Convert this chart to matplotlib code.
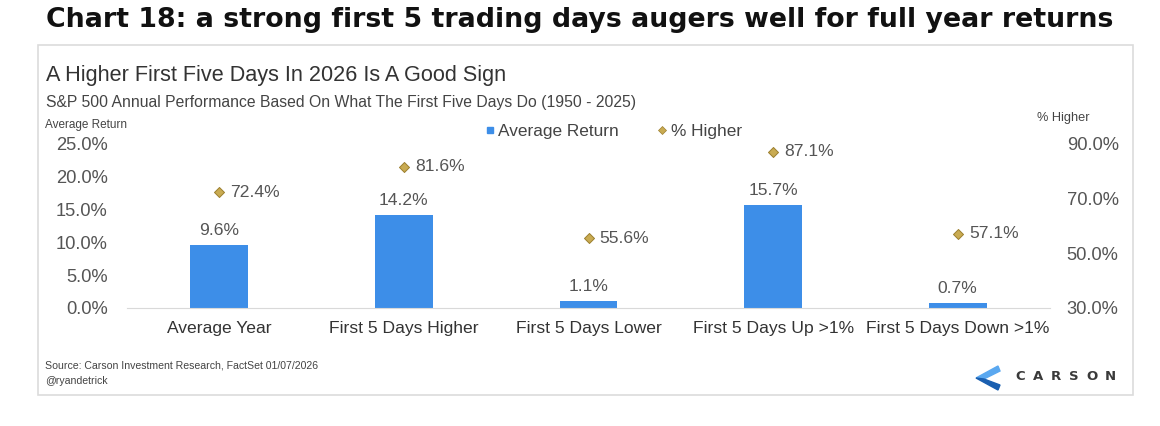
import matplotlib.pyplot as plt
from matplotlib.patches import Rectangle, Polygon
from matplotlib.lines import Line2D

categories = ["Average Year", "First 5 Days Higher", "First 5 Days Lower",
              "First 5 Days Up >1%", "First 5 Days Down >1%"]
avg_return = [9.6, 14.2, 1.1, 15.7, 0.7]
pct_higher = [72.4, 81.6, 55.6, 87.1, 57.1]
left_ticks = [0, 5, 10, 15, 20, 25]
right_ticks = [30, 50, 70, 90]

W, H = 1160, 426
bar_color = "#3d8ee8"
dia_color = "#c9ab52"
txt = "#555555"
FONT = "Liberation Sans"

fig = plt.figure(figsize=(W / 100, H / 100), dpi=100)
fig.patch.set_facecolor("white")

# outer heading
fig.text(0.5, 1 - 20 / H, "Chart 18: a strong first 5 trading days augers well for full year returns",
         ha="center", va="center", fontsize=19.3, fontweight="bold", family="DejaVu Sans", color="#111111")

# chart frame
fig.patches.append(Rectangle((38 / W, 1 - 395 / H), (1133 - 38) / W, (395 - 45) / H,
                             transform=fig.transFigure, fill=False, edgecolor="#dcdcdc", lw=1.2))

fig.text(46 / W, 1 - 75 / H, "A Higher First Five Days In 2026 Is A Good Sign",
         ha="left", va="center", fontsize=15.6, family=FONT, color="#333333")
fig.text(46 / W, 1 - 103 / H, "S&P 500 Annual Performance Based On What The First Five Days Do (1950 - 2025)",
         ha="left", va="center", fontsize=11.3, family=FONT, color="#444444")
fig.text(45 / W, 1 - 125 / H, "Average Return", ha="left", va="center", fontsize=8.5,
         family=FONT, color="#444444")
fig.text(1037 / W, 1 - 118 / H, "% Higher", ha="left", va="center", fontsize=9.2,
         family=FONT, color="#444444")

ax = fig.add_axes([127 / W, 1 - 308 / H, 923 / W, (308 - 144) / H])
x = list(range(len(categories)))
bars = ax.bar(x, avg_return, width=0.314, color=bar_color, zorder=2)
ax.set_xlim(-0.5, len(categories) - 0.5)
ax.set_ylim(0, 25)
ax.set_yticks(left_ticks)
ax.set_yticklabels([f"{v:.1f}%" for v in left_ticks])
ax.set_xticks(x)
ax.set_xticklabels(categories)
ax.tick_params(axis="y", length=0, pad=14, labelsize=13.2, labelcolor=txt)
ax.tick_params(axis="x", length=0, pad=9, labelsize=12.6, labelcolor="#333333")
for s in ["top", "left", "right"]:
    ax.spines[s].set_visible(False)
ax.spines["bottom"].set_color("#d9d9d9")
for lab in ax.get_xticklabels() + ax.get_yticklabels():
    lab.set_family(FONT)

for xi, v in zip(x, avg_return):
    ax.annotate(f"{v:.1f}%", (xi, v), xytext=(0, 5), textcoords="offset points",
                ha="center", va="bottom", fontsize=12.6, color=txt, family=FONT)

ax2 = ax.twinx()
ax2.set_ylim(30, 90)
ax2.set_yticks(right_ticks)
ax2.set_yticklabels([f"{v:.1f}%" for v in right_ticks])
ax2.tick_params(axis="y", length=0, pad=12, labelsize=13.2, labelcolor=txt)
for s in ax2.spines.values():
    s.set_visible(False)
for lab in ax2.get_yticklabels():
    lab.set_family(FONT)
ax2.scatter(x, pct_higher, marker="D", s=26, color=dia_color, edgecolor="#9c7f2e", lw=0.7, zorder=3)
for xi, v in zip(x, pct_higher):
    ax2.annotate(f"{v:.1f}%", (xi, v), xytext=(8, 0), textcoords="offset points",
                 ha="left", va="center", fontsize=12.6, color=txt, family=FONT)

handles = [Line2D([], [], ls="none", marker="s", ms=5, color=bar_color),
           Line2D([], [], ls="none", marker="D", ms=4, color=dia_color, mec="#9c7f2e", mew=0.5)]
fig.legend(handles, ["Average Return", "% Higher"], loc="center", ncol=2,
           bbox_to_anchor=(613 / W, 1 - 131 / H), frameon=False, handlelength=0.6,
           handletextpad=0.2, columnspacing=2.2, prop={"family": FONT, "size": 12.4},
           labelcolor="#444444")

fig.text(45 / W, 1 - 366 / H, "Source: Carson Investment Research, FactSet 01/07/2026",
         ha="left", va="center", fontsize=7.6, family=FONT, color="#444444")
fig.text(45 / W, 1 - 381 / H, "@ryandetrick", ha="left", va="center", fontsize=7.6,
         family=FONT, color="#444444")

# Carson logo
def px(pts):
    return [(a / W, 1 - b / H) for a, b in pts]
fig.patches.append(Polygon(px([(998, 366), (976, 378), (984, 379), (1000, 371)]),
                           closed=True, transform=fig.transFigure, color="#5aa8f0"))
fig.patches.append(Polygon(px([(976, 378), (998, 390), (1000, 385), (984, 379)]),
                           closed=True, transform=fig.transFigure, color="#1a5fb0"))
for i, ch in enumerate("CARSON"):
    fig.text((1020 + i * 18.0) / W, 1 - 377 / H, ch, ha="center", va="center", fontsize=9.5,
             fontweight="bold", family="DejaVu Sans", color="#3a3a3a")

fig.savefig("out.png", dpi=100)
